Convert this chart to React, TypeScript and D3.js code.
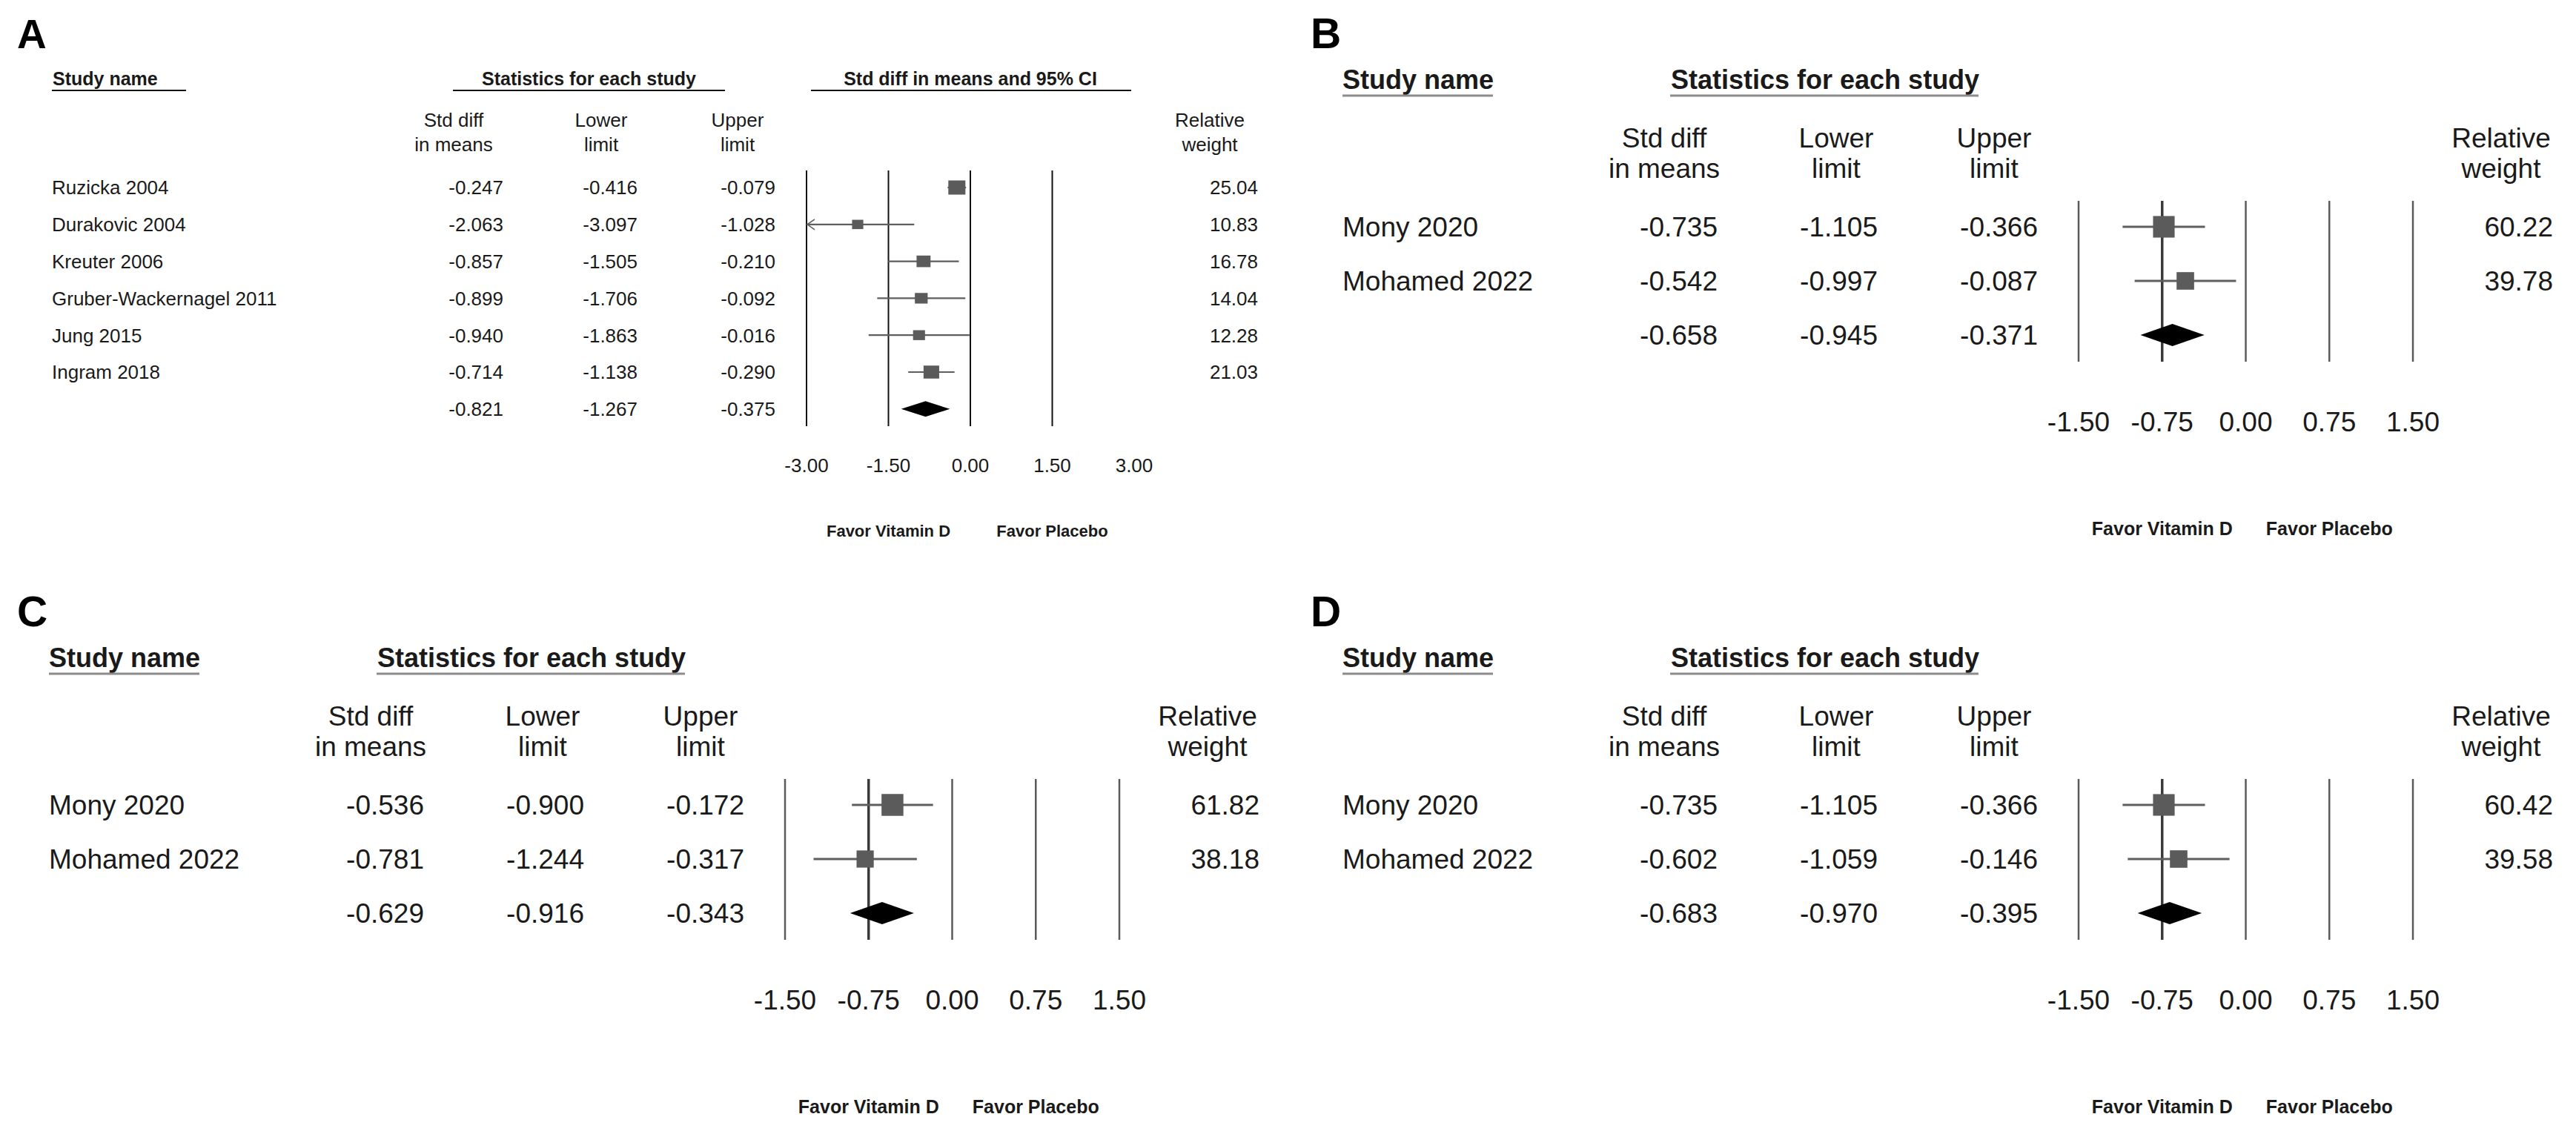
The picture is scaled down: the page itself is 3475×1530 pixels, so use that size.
import * as d3 from "d3";

// ---- data ----
const namesA = ["Ruzicka 2004", "Durakovic 2004", "Kreuter 2006", "Gruber-Wackernagel 2011", "Jung 2015", "Ingram 2018"];
const effA = [-0.247, -2.063, -0.857, -0.899, -0.94, -0.714];
const lowA = [-0.416, -3.097, -1.505, -1.706, -1.863, -1.138];
const upA = [-0.079, -1.028, -0.21, -0.092, -0.016, -0.29];
const weightA = [25.04, 10.83, 16.78, 14.04, 12.28, 21.03];
const summaryA = [-0.821, -1.267, -0.375];

const namesBCD = ["Mony 2020", "Mohamed 2022"];
const effB = [-0.735, -0.542];
const lowB = [-1.105, -0.997];
const upB = [-0.366, -0.087];
const weightB = [60.22, 39.78];
const summaryB = [-0.658, -0.945, -0.371];

const effC = [-0.536, -0.781];
const lowC = [-0.9, -1.244];
const upC = [-0.172, -0.317];
const weightC = [61.82, 38.18];
const summaryC = [-0.629, -0.916, -0.343];

const effD = [-0.735, -0.602];
const lowD = [-1.105, -1.059];
const upD = [-0.366, -0.146];
const weightD = [60.42, 39.58];
const summaryD = [-0.683, -0.97, -0.395];

const ticksA = [-3, -1.5, 0, 1.5, 3];
const gridA = [-3, -1.5, 0, 1.5];
const ticksSmall = [-1.5, -0.75, 0, 0.75, 1.5];

const FONT = "'Liberation Sans', Arial, Helvetica, sans-serif";
const INK = "#1a1a1a";

// plain hyphen for negatives, like the original output
const locale = d3.formatLocale({ decimal: ".", thousands: ",", grouping: [3], currency: ["", ""], minus: "-" });
const fmt3 = locale.format(".3f");
const fmt2 = locale.format(".2f");

// layout of the big panel (A) and the three small ones (B, C, D, relative to origin)
const layoutA = {
  label: { x: 23, y: 65, size: 55 },
  headSize: 25, headY: 115, ulY: 122, ulColor: "#111", ulW: 2.2,
  study: { x: 71, x1: 70, x2: 251 },
  stats: { x: 650, x1: 611, x2: 978 },
  ci: { cx: 1309, x1: 1094, x2: 1526 },
  colCenters: [612, 811, 995], colRights: [679, 860, 1046],
  weightCenter: 1632, weightRight: 1697, colHeadY: [171, 204],
  fontSize: 26, nameX: 70, rowY0: 253, rowStep: 49.8,
  xRange: [1088, 1530], domain: [-3, 3],
  lineY: [230, 575], lineColor: "#111", lineW: 2, darkTick: null,
  tickY: 637, tickSize: 26,
  favorY: 724, favorSize: 22, favorAt: [-1.5, 1.5],
  boxK: 4.6, boxAspect: 0.83, diamondH: 21, ciW: 2.2,
};

const layoutSmall = {
  label: { x: 18, y: 65, size: 57 },
  headSize: 36, headY: 120, ulY: 129, ulColor: "#8c8c8c", ulW: 3,
  study: { x: 61, x1: 61, x2: 264 },
  stats: { x: 504, x1: 503, x2: 919 },
  ci: null,
  colCenters: [495, 727, 940], colRights: [567, 783, 999],
  weightCenter: 1624, weightRight: 1694, colHeadY: [199, 240],
  fontSize: 37, nameX: 61, rowY0: 306, rowStep: 73,
  xRange: [1054, 1505], domain: [-1.5, 1.5],
  lineY: [271, 488], lineColor: "#5a5a5a", lineW: 2.5, darkTick: -0.75,
  tickY: 582, tickSize: 37,
  favorY: 722, favorSize: 25, favorAt: [-0.75, 0.75],
  boxK: 3.75, boxAspect: 1, diamondH: 30, ciW: 3,
};

function Panel({ letter, ox, oy, L, names, eff, low, up, weight, summary, ticks, grid }) {
  const x = d3.scaleLinear().domain(L.domain).range(L.xRange);
  const y = d3.scaleLinear().domain([0, 1]).range([L.rowY0, L.rowY0 + L.rowStep]);
  const base = (i) => y(i) + L.fontSize * 0.36;
  const [dMin, dMax] = L.domain;
  const sumRow = names.length;
  const diamond = d3.line()([
    [x(summary[1]), y(sumRow)],
    [x(summary[0]), y(sumRow) - L.diamondH / 2],
    [x(summary[2]), y(sumRow)],
    [x(summary[0]), y(sumRow) + L.diamondH / 2],
  ]) + "Z";

  const text = { fontFamily: FONT, fill: INK };
  const bold = { ...text, fontWeight: 700 };

  return (
    <g transform={`translate(${ox},${oy})`}>
      <text x={L.label.x} y={L.label.y} fontSize={L.label.size} style={{ ...bold, fill: "#000" }}>{letter}</text>

      {/* group headers */}
      <text x={L.study.x} y={L.headY} fontSize={L.headSize} style={bold}>Study name</text>
      <line x1={L.study.x1} x2={L.study.x2} y1={L.ulY} y2={L.ulY} stroke={L.ulColor} strokeWidth={L.ulW} />
      <text x={L.stats.x} y={L.headY} fontSize={L.headSize} style={bold}>Statistics for each study</text>
      <line x1={L.stats.x1} x2={L.stats.x2} y1={L.ulY} y2={L.ulY} stroke={L.ulColor} strokeWidth={L.ulW} />
      {L.ci && (
        <>
          <text x={L.ci.cx} y={L.headY} fontSize={L.headSize} textAnchor="middle" style={bold}>Std diff in means and 95% CI</text>
          <line x1={L.ci.x1} x2={L.ci.x2} y1={L.ulY} y2={L.ulY} stroke={L.ulColor} strokeWidth={L.ulW} />
        </>
      )}

      {/* column headers */}
      {[["Std diff", "in means"], ["Lower", "limit"], ["Upper", "limit"]].map((pair, c) =>
        pair.map((t, k) => (
          <text key={`${c}-${k}`} x={L.colCenters[c]} y={L.colHeadY[k]} fontSize={L.fontSize} textAnchor="middle" style={text}>{t}</text>
        ))
      )}
      {["Relative", "weight"].map((t, k) => (
        <text key={t} x={L.weightCenter} y={L.colHeadY[k]} fontSize={L.fontSize} textAnchor="middle" style={text}>{t}</text>
      ))}

      {/* table rows */}
      {names.map((n, i) => (
        <g key={n}>
          <text x={L.nameX} y={base(i)} fontSize={L.fontSize} style={text}>{n}</text>
          {[eff[i], low[i], up[i]].map((v, c) => (
            <text key={c} x={L.colRights[c]} y={base(i)} fontSize={L.fontSize} textAnchor="end" style={text}>{fmt3(v)}</text>
          ))}
          <text x={L.weightRight} y={base(i)} fontSize={L.fontSize} textAnchor="end" style={text}>{fmt2(weight[i])}</text>
        </g>
      ))}
      {summary.map((v, c) => (
        <text key={`s${c}`} x={L.colRights[c]} y={base(sumRow)} fontSize={L.fontSize} textAnchor="end" style={text}>{fmt3(v)}</text>
      ))}

      {/* reference lines */}
      {grid.map((t) => (
        <line key={`g${t}`} x1={x(t)} x2={x(t)} y1={L.lineY[0]} y2={L.lineY[1]}
          stroke={t === L.darkTick ? "#3a3a3a" : L.lineColor}
          strokeWidth={t === L.darkTick ? L.lineW + 1 : L.lineW} />
      ))}

      {/* study CIs and boxes */}
      {names.map((n, i) => {
        const lo = Math.max(low[i], dMin);
        const hi = Math.min(up[i], dMax);
        const w = L.boxK * Math.sqrt(weight[i]);
        const h = w * L.boxAspect;
        const cy = y(i);
        return (
          <g key={`m${n}`}>
            <line x1={x(lo)} x2={x(hi)} y1={cy} y2={cy} stroke="#5e5e5e" strokeWidth={L.ciW} />
            {low[i] < dMin && (
              <path d={d3.line()([[x(dMin) + 11, cy - 7], [x(dMin) + 1, cy], [x(dMin) + 11, cy + 7]])}
                fill="none" stroke="#5e5e5e" strokeWidth={1.6} />
            )}
            <rect x={x(eff[i]) - w / 2} y={cy - h / 2} width={w} height={h} fill="#5b5b5b" />
          </g>
        );
      })}
      <path d={diamond} fill="#000" />

      {/* tick labels */}
      {ticks.map((t) => (
        <text key={`t${t}`} x={x(t)} y={L.tickY} fontSize={L.tickSize} textAnchor="middle" style={text}>{fmt2(t)}</text>
      ))}
      <text x={x(L.favorAt[0])} y={L.favorY} fontSize={L.favorSize} textAnchor="middle" style={bold}>Favor Vitamin D</text>
      <text x={x(L.favorAt[1])} y={L.favorY} fontSize={L.favorSize} textAnchor="middle" style={bold}>Favor Placebo</text>
    </g>
  );
}

export default function App() {
  return (
    <svg width={3475} height={1530} viewBox="0 0 3475 1530"
      style={{ position: "absolute", left: 0, top: 0, background: "#fff" }}>
      <rect width={3475} height={1530} fill="#fff" />
      <Panel letter="A" ox={0} oy={0} L={layoutA} names={namesA} eff={effA} low={lowA} up={upA}
        weight={weightA} summary={summaryA} ticks={ticksA} grid={gridA} />
      <Panel letter="B" ox={1750} oy={0} L={layoutSmall} names={namesBCD} eff={effB} low={lowB} up={upB}
        weight={weightB} summary={summaryB} ticks={ticksSmall} grid={ticksSmall} />
      <Panel letter="C" ox={5} oy={780} L={layoutSmall} names={namesBCD} eff={effC} low={lowC} up={upC}
        weight={weightC} summary={summaryC} ticks={ticksSmall} grid={ticksSmall} />
      <Panel letter="D" ox={1750} oy={780} L={layoutSmall} names={namesBCD} eff={effD} low={lowD} up={upD}
        weight={weightD} summary={summaryD} ticks={ticksSmall} grid={ticksSmall} />
    </svg>
  );
}
